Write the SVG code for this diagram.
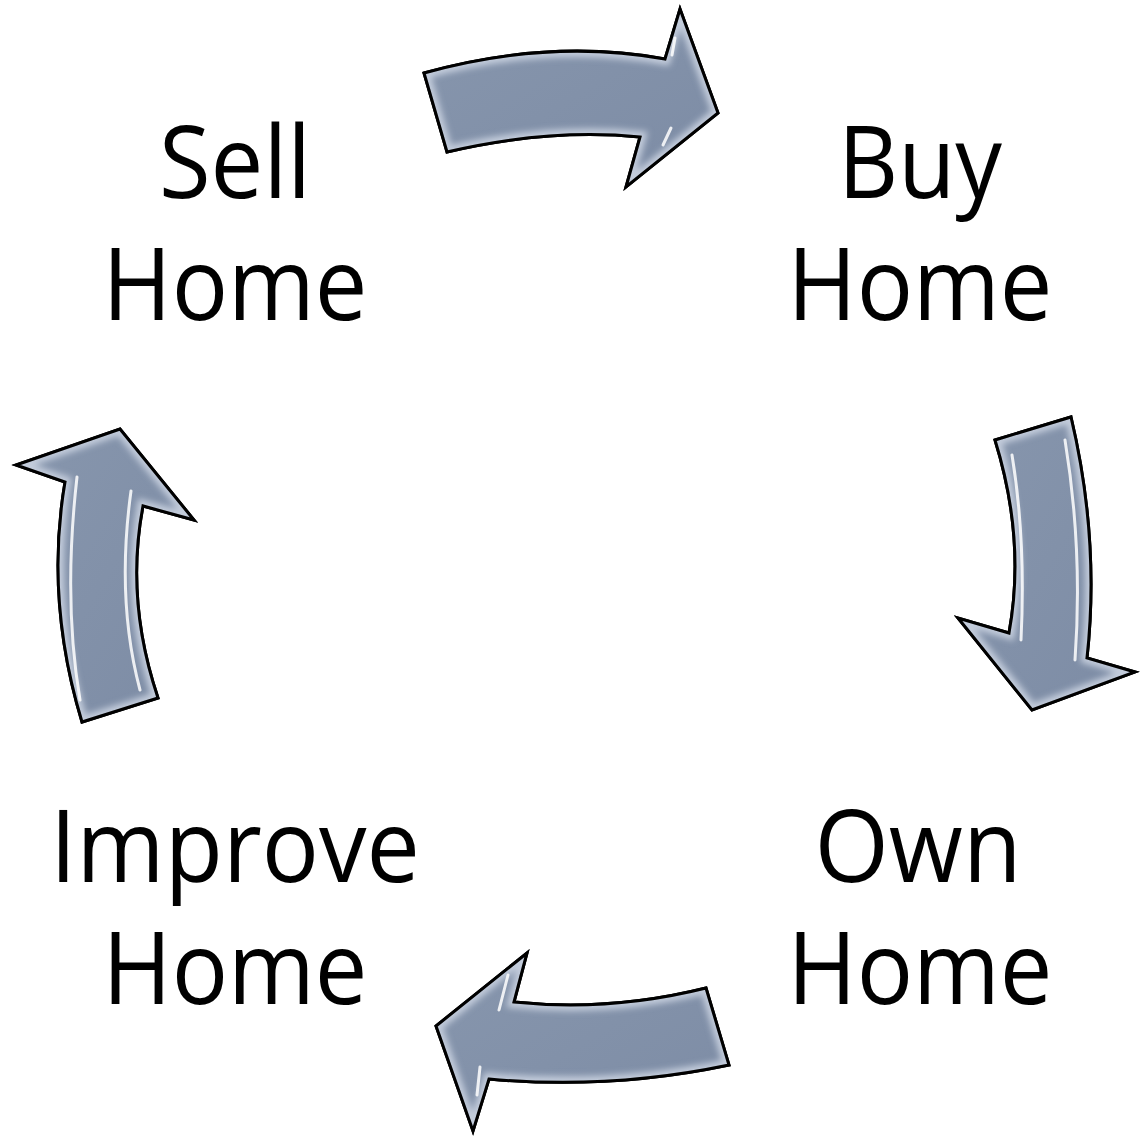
<svg xmlns="http://www.w3.org/2000/svg" width="1140" height="1139" viewBox="0 0 1140 1139">
<style>
.lbl{font-family:"Open Sans","Lato",sans-serif;font-size:100px;fill:#000;text-anchor:middle}
.arrow{fill:url(#g);stroke:#000;stroke-width:3;stroke-linejoin:miter}
.bevel{fill:none;stroke:#c3ccdb;stroke-width:12;filter:url(#blur)}
.glint{fill:none;stroke:#fff;stroke-width:3;stroke-linecap:round;opacity:0.85}
.edge{fill:none;stroke:#000;stroke-width:3;stroke-linejoin:miter}
</style>
<defs>
<linearGradient id="g" x1="0" y1="0" x2="1" y2="1">
<stop offset="0" stop-color="#8796ad"/>
<stop offset="1" stop-color="#7d8ca5"/>
</linearGradient>
<filter id="blur" x="-10%" y="-10%" width="120%" height="120%"><feGaussianBlur stdDeviation="3"/></filter>
<path id="a1" d="M424,73 Q550,38 665,59 L680,9 L718,113 L626,187 L640,137 Q550,128 447,152 Z"/>
<path id="a2" d="M995,440 L1071,417 Q1100,540 1087,658 L1135,672 L1032,710 L958,618 L1009,633 Q1026,540 995,440 Z"/>
<path id="a3" d="M706,988 L729,1065 Q610,1090 489,1079 L473,1131 L436,1026 L527,953 L514,1002 Q610,1012 706,988 Z"/>
<path id="a4" d="M82,722 Q45,600 65,482 L16,465 L120,429 L194,520 L143,506 Q125,600 158,698 Z"/>
<clipPath id="c1"><use href="#a1"/></clipPath>
<clipPath id="c2"><use href="#a2"/></clipPath>
<clipPath id="c3"><use href="#a3"/></clipPath>
<clipPath id="c4"><use href="#a4"/></clipPath>
</defs>
<g id="connectors">
<g id="arrow-sell-buy">
<use href="#a1" class="arrow"/>
<g clip-path="url(#c1)"><use href="#a1" class="bevel"/></g>
<use href="#a1" class="edge"/>
<path class="glint" d="M675,38 L672,55 M663,145 L671,128"/>
</g>
<g id="arrow-buy-own">
<use href="#a2" class="arrow"/>
<g clip-path="url(#c2)"><use href="#a2" class="bevel"/></g>
<use href="#a2" class="edge"/>
<path class="glint" d="M1012,455 Q1026,540 1021,640 M1065,440 Q1083,550 1075,660"/>
</g>
<g id="arrow-own-improve">
<use href="#a3" class="arrow"/>
<g clip-path="url(#c3)"><use href="#a3" class="bevel"/></g>
<use href="#a3" class="edge"/>
<path class="glint" d="M508,975 L499,1010 M480,1067 L477,1095"/>
</g>
<g id="arrow-improve-sell">
<use href="#a4" class="arrow"/>
<g clip-path="url(#c4)"><use href="#a4" class="bevel"/></g>
<use href="#a4" class="edge"/>
<path class="glint" d="M77,477 Q63,600 80,700 M131,491 Q116,600 140,690"/>
</g>
</g>
<g id="node-sell">
<text class="lbl" x="235" y="198" textLength="152" lengthAdjust="spacingAndGlyphs">Sell</text>
<text class="lbl" x="235" y="320" textLength="265" lengthAdjust="spacingAndGlyphs">Home</text>
</g>
<g id="node-buy">
<text class="lbl" x="920" y="198" textLength="164" lengthAdjust="spacingAndGlyphs">Buy</text>
<text class="lbl" x="920" y="320" textLength="265" lengthAdjust="spacingAndGlyphs">Home</text>
</g>
<g id="node-own">
<text class="lbl" x="918" y="882" textLength="207" lengthAdjust="spacingAndGlyphs">Own</text>
<text class="lbl" x="920" y="1004" textLength="265" lengthAdjust="spacingAndGlyphs">Home</text>
</g>
<g id="node-improve">
<text class="lbl" x="235" y="882" textLength="370" lengthAdjust="spacingAndGlyphs">Improve</text>
<text class="lbl" x="235" y="1004" textLength="265" lengthAdjust="spacingAndGlyphs">Home</text>
</g>
</svg>
